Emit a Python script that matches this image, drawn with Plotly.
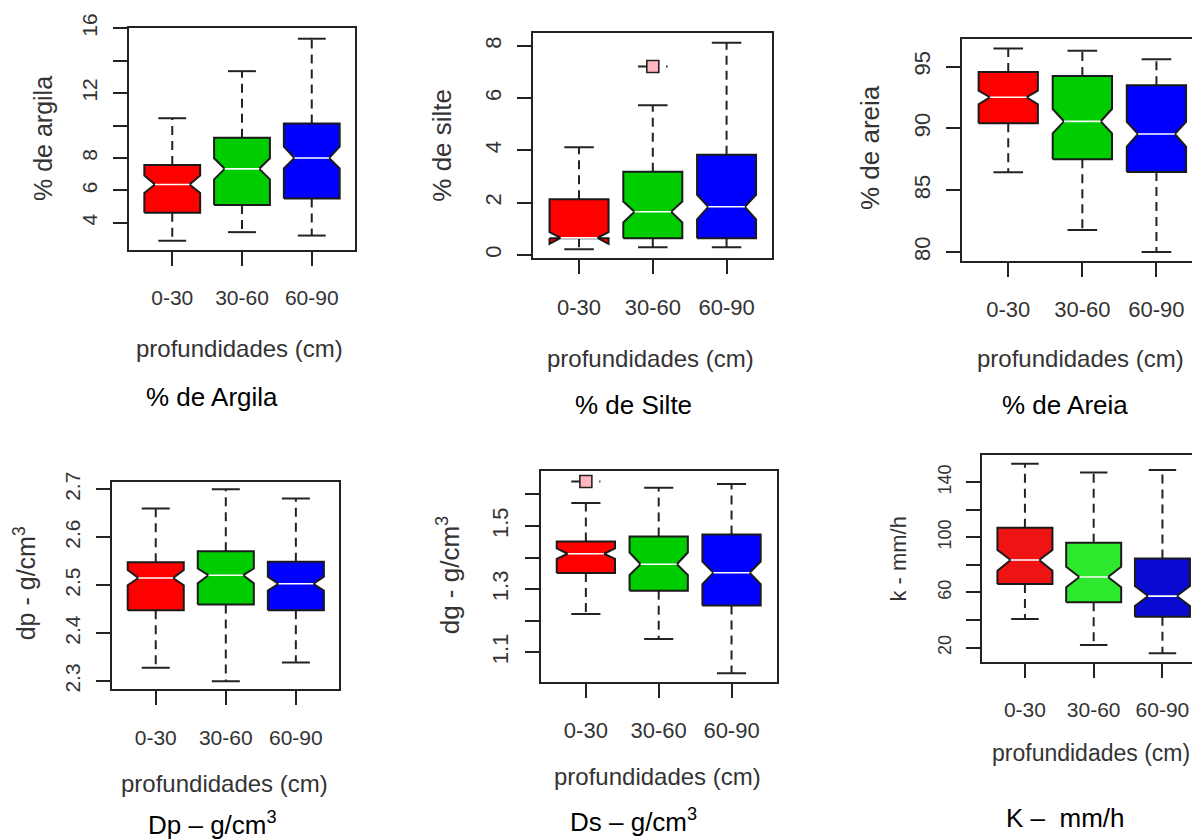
import plotly.graph_objects as go

# ---------------- data ----------------
categories = ["0-30", "30-60", "60-90"]

argila_low = [2.90, 3.43, 3.22]
argila_q1 = [4.63, 5.10, 5.51]
argila_med = [6.37, 7.33, 8.00]
argila_q3 = [7.57, 9.24, 10.12]
argila_high = [10.45, 13.35, 15.35]
argila_notch_lo = [5.85, 6.68, 7.36]
argila_notch_hi = [6.92, 7.98, 8.70]
argila_out = [[], [], []]

silte_low = [0.22, 0.29, 0.29]
silte_q1 = [0.64, 0.64, 0.64]
silte_med = [0.65, 1.65, 1.84]
silte_q3 = [2.13, 3.18, 3.83]
silte_high = [4.12, 5.73, 8.12]
silte_notch_lo = [0.42, 1.24, 1.36]
silte_notch_hi = [0.87, 2.04, 2.30]
silte_out = [[], [7.21], []]

areia_low = [86.45, 81.78, 80.00]
areia_q1 = [90.41, 87.50, 86.47]
areia_med = [92.52, 90.57, 89.55]
areia_q3 = [94.57, 94.24, 93.49]
areia_high = [96.46, 96.29, 95.59]
areia_notch_lo = [91.95, 89.60, 88.52]
areia_notch_hi = [93.06, 91.57, 90.52]
areia_out = [[], [], []]

dp_low = [2.328, 2.300, 2.339]
dp_q1 = [2.448, 2.460, 2.448]
dp_med = [2.515, 2.521, 2.503]
dp_q3 = [2.548, 2.571, 2.549]
dp_high = [2.660, 2.700, 2.681]
dp_notch_lo = [2.500, 2.504, 2.489]
dp_notch_hi = [2.532, 2.535, 2.518]
dp_out = [[], [], []]

ds_low = [1.221, 1.142, 1.034]
ds_q1 = [1.351, 1.295, 1.248]
ds_med = [1.412, 1.379, 1.352]
ds_q3 = [1.451, 1.467, 1.473]
ds_high = [1.573, 1.621, 1.633]
ds_notch_lo = [1.396, 1.345, 1.316]
ds_notch_hi = [1.429, 1.416, 1.387]
ds_out = [[1.641], [], []]

k_low = [40.8, 21.9, 15.9]
k_q1 = [66.1, 52.9, 42.5]
k_med = [83.5, 71.2, 57.4]
k_q3 = [106.9, 96.1, 84.7]
k_high = [153.3, 147.0, 148.7]
k_notch_lo = [75.8, 63.8, 50.2]
k_notch_hi = [90.8, 78.7, 64.7]
k_out = [[], [], []]

# labelled ticks and unlabelled ticks per panel
argila_ticks = [4, 6, 8, 12, 16]
argila_minor = [10, 14]
silte_ticks = [0, 2, 4, 6, 8]
silte_minor = []
areia_ticks = [80, 85, 90, 95]
areia_minor = []
dp_ticks = [2.3, 2.4, 2.5, 2.6, 2.7]
dp_minor = []
ds_ticks = [1.1, 1.3, 1.5]
ds_minor = [1.2, 1.4, 1.6]
k_ticks = [20, 60, 100, 140]
k_minor = [40, 80, 120]

# ---------------- layout / style ----------------
W, H = 1192, 840
RFONT = "Liberation Sans, Arial, sans-serif"
STD_COLORS = ["#ff0000", "#00cd00", "#0000ff"]
K_COLORS = ["#ef1414", "#2ee82e", "#0a0ad2"]


def px_x(p):
    return p / W


def px_y(p):
    return 1 - p / H


panels = [
    dict(stats=(argila_low, argila_q1, argila_med, argila_q3, argila_high,
                argila_notch_lo, argila_notch_hi, argila_out),
         frame=(129, 355, 28, 250), xr=[0.38, 3.62], yr=[2.33, 16.01],
         ticks=(argila_ticks, argila_minor), colors=STD_COLORS, nf=0.62,
         ytitle="% de argila", ytitle_pos=(43, 139),
         xtitle_pos=(240, 348), xtitle_size=24,
         caption="% de Argila", cap_pos=(212, 397),
         mirror_y=True, ytick_size=21, xtick_size=21, ytitle_size=25),
    dict(stats=(silte_low, silte_q1, silte_med, silte_q3, silte_high,
                silte_notch_lo, silte_notch_hi, silte_out),
         frame=(533.3, 772.3, 33.3, 258.3), xr=[0.38, 3.62], yr=[-0.13, 8.48],
         ticks=(silte_ticks, silte_minor), colors=STD_COLORS, nf=0.62,
         ytitle="% de silte", ytitle_pos=(441.7, 145),
         xtitle_pos=(650.7, 358.3), xtitle_size=24,
         caption="% de Silte", cap_pos=(633.3, 405),
         mirror_y=True, ytick_size=22, xtick_size=22, ytitle_size=26),
    dict(stats=(areia_low, areia_q1, areia_med, areia_q3, areia_high,
                areia_notch_lo, areia_notch_hi, areia_out),
         frame=(962.3, 1192, 39.3, 261), xr=[0.38, 3.48], yr=[79.27, 97.21],
         ticks=(areia_ticks, areia_minor), colors=STD_COLORS, nf=0.62,
         ytitle="% de areia", ytitle_pos=(870, 148),
         xtitle_pos=(1080.7, 358.3), xtitle_size=24,
         caption="% de Areia", cap_pos=(1065, 405),
         mirror_y=False, ytick_size=22, xtick_size=22, ytitle_size=26),
    dict(stats=(dp_low, dp_q1, dp_med, dp_q3, dp_high,
                dp_notch_lo, dp_notch_hi, dp_out),
         frame=(112.3, 339.3, 481.7, 689.3), xr=[0.38, 3.62], yr=[2.283, 2.716],
         ticks=(dp_ticks, dp_minor), colors=STD_COLORS, nf=0.62,
         ytitle="dp - g/cm<sup>3</sup>", ytitle_pos=(25, 583.3),
         xtitle_pos=(224, 783.3), xtitle_size=24,
         caption="Dp – g/cm<sup>3</sup>", cap_pos=(212, 823),
         mirror_y=True, ytick_size=21, xtick_size=21, ytitle_size=25),
    dict(stats=(ds_low, ds_q1, ds_med, ds_q3, ds_high,
                ds_notch_lo, ds_notch_hi, ds_out),
         frame=(540.7, 776.7, 470.7, 681.7), xr=[0.38, 3.62], yr=[1.007, 1.675],
         ticks=(ds_ticks, ds_minor), colors=STD_COLORS, nf=0.62,
         ytitle="dg - g/cm<sup>3</sup>", ytitle_pos=(448.3, 575),
         xtitle_pos=(657.3, 776.7), xtitle_size=24,
         caption="Ds – g/cm<sup>3</sup>", cap_pos=(633, 820),
         mirror_y=True, ytick_size=22, xtick_size=22, ytitle_size=26),
    dict(stats=(k_low, k_q1, k_med, k_q3, k_high,
                k_notch_lo, k_notch_hi, k_out),
         frame=(982.3, 1192, 455, 661.7), xr=[0.38, 3.43], yr=[9.86, 159.6],
         ticks=(k_ticks, k_minor), colors=K_COLORS, nf=0.52,
         ytitle="k - mm/h", ytitle_pos=(898.3, 558.3),
         xtitle_pos=(1091, 753), xtitle_size=23,
         caption="K –  mm/h", cap_pos=(1065, 818),
         mirror_y=False, ytick_size=18, xtick_size=21, ytitle_size=22),
]

fig = go.Figure()
layout = dict(
    width=W, height=H, autosize=False,
    margin=dict(l=0, r=0, t=0, b=0, autoexpand=False),
    paper_bgcolor="white", plot_bgcolor="white",
    showlegend=False, hovermode=False,
)
annotations = []

HALF = 0.4   # half box width (boxwex 0.8)
CAP = 0.2    # half staple width

for k, p in enumerate(panels):
    n = k + 1
    xa = "x" if n == 1 else f"x{n}"
    ya = "y" if n == 1 else f"y{n}"
    low, q1, med, q3, high, nlo, nhi, outs = p["stats"]
    for i, cat in enumerate(categories):
        c = i + 1
        nw = HALF * p["nf"]
        # whiskers (dashed)
        fig.add_trace(go.Scatter(
            x=[c, c, None, c, c], y=[q3[i], high[i], None, q1[i], low[i]],
            mode="lines", line=dict(color="#222", width=2, dash="9px,6px"),
            xaxis=xa, yaxis=ya, hoverinfo="skip"))
        # staples
        fig.add_trace(go.Scatter(
            x=[c - CAP, c + CAP, None, c - CAP, c + CAP],
            y=[high[i], high[i], None, low[i], low[i]],
            mode="lines", line=dict(color="#222", width=2),
            xaxis=xa, yaxis=ya, hoverinfo="skip"))
        # notched box
        fig.add_trace(go.Scatter(
            x=[c - HALF, c - HALF, c - nw, c - HALF, c - HALF,
               c + HALF, c + HALF, c + nw, c + HALF, c + HALF, c - HALF],
            y=[q1[i], nlo[i], med[i], nhi[i], q3[i],
               q3[i], nhi[i], med[i], nlo[i], q1[i], q1[i]],
            mode="lines", fill="toself", fillcolor=p["colors"][i],
            line=dict(color="#1a1a1a", width=2),
            xaxis=xa, yaxis=ya, hoverinfo="skip"))
        # median
        fig.add_trace(go.Scatter(
            x=[c - nw, c + nw], y=[med[i], med[i]],
            mode="lines", line=dict(color="white", width=1.6),
            xaxis=xa, yaxis=ya, hoverinfo="skip"))
        # outliers
        for o in outs[i]:
            fig.add_trace(go.Scatter(
                x=[c - CAP, c + CAP], y=[o, o], mode="lines",
                line=dict(color="#222", width=2, dash="9px,19px,2px"),
                xaxis=xa, yaxis=ya, hoverinfo="skip"))
            fig.add_trace(go.Scatter(
                x=[c], y=[o], mode="markers",
                marker=dict(symbol="square", size=12, color="#ffb6c1",
                            line=dict(color="#222", width=1.6)),
                xaxis=xa, yaxis=ya, hoverinfo="skip"))

    l, r, t, b = p["frame"]
    xkey = "xaxis" if n == 1 else f"xaxis{n}"
    ykey = "yaxis" if n == 1 else f"yaxis{n}"
    layout[xkey] = dict(
        domain=[px_x(l), px_x(r)], anchor=ya, range=p["xr"],
        tickmode="array", tickvals=[1, 2, 3], ticktext=categories,
        ticks="outside", ticklen=14, tickwidth=2, tickcolor="#222",
        showline=True, linewidth=2, linecolor="#222", mirror=True,
        showgrid=False, zeroline=False, fixedrange=True, automargin=False,
        tickfont=dict(family=RFONT, size=p["xtick_size"], color="#333"),
        ticklabelstandoff=14,
    )
    ymajor, yminor = p["ticks"]
    ycfg = dict(
        domain=[px_y(b), px_y(t)], anchor=xa, range=p["yr"],
        tickmode="array", tickvals=ymajor, ticktext=[f"{v:g}" for v in ymajor],
        ticks="outside", ticklen=14, tickwidth=2, tickcolor="#222",
        showline=True, linewidth=2, linecolor="#222", mirror=p["mirror_y"],
        showgrid=False, zeroline=False, fixedrange=True, tickangle=-90,
        automargin=False,
        tickfont=dict(family=RFONT, size=p["ytick_size"], color="#333"),
        ticklabelstandoff=8,
    )
    if yminor:
        ycfg["minor"] = dict(tickmode="array", tickvals=yminor, ticks="outside",
                             ticklen=14, tickwidth=2, tickcolor="#222",
                             showgrid=False)
    layout[ykey] = ycfg
    annotations.append(dict(
        text=p["ytitle"], x=px_x(p["ytitle_pos"][0]), y=px_y(p["ytitle_pos"][1]),
        xref="paper", yref="paper", xanchor="center", yanchor="middle",
        textangle=-90, showarrow=False,
        font=dict(family=RFONT, size=p["ytitle_size"], color="#333")))
    annotations.append(dict(
        text="profundidades (cm)", x=px_x(p["xtitle_pos"][0]), y=px_y(p["xtitle_pos"][1]),
        xref="paper", yref="paper", xanchor="center", yanchor="middle",
        showarrow=False, font=dict(family=RFONT, size=p["xtitle_size"], color="#333")))
    annotations.append(dict(
        text=p["caption"], x=px_x(p["cap_pos"][0]), y=px_y(p["cap_pos"][1]),
        xref="paper", yref="paper", xanchor="center", yanchor="middle",
        showarrow=False, font=dict(family="Liberation Sans, Arial, sans-serif",
                                   size=26, color="black")))

layout["annotations"] = annotations
fig.update_layout(**layout)
fig.write_html(
    "out.html",
    config={"displayModeBar": False},
    post_script="document.body.style.margin='0';document.body.style.overflow='hidden';",
)
